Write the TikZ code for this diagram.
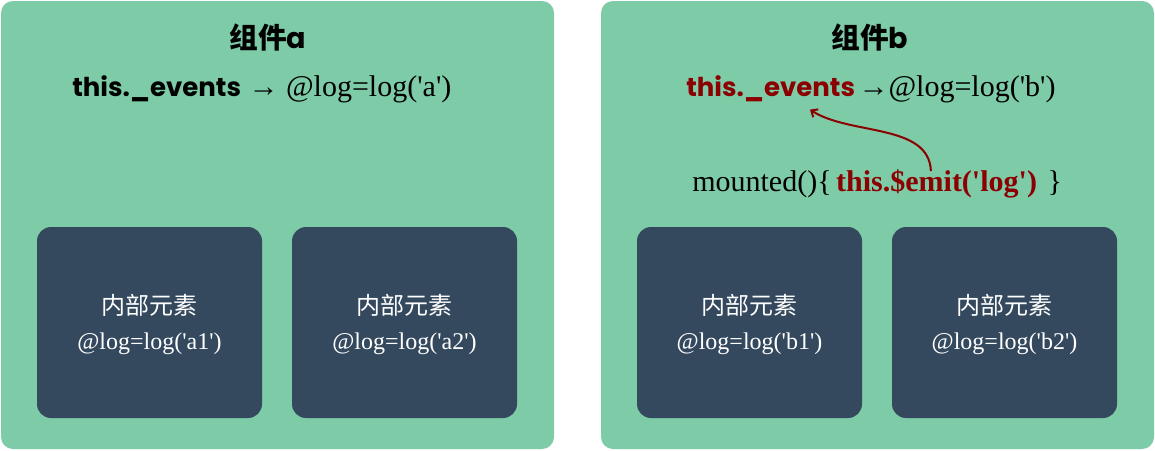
\documentclass[tikz,border=0pt]{standalone}
\usepackage{fontspec}
\usetikzlibrary{arrows.meta,calc}
\setmainfont{Liberation Serif}
\newfontfamily\pop{Poppins}
\newfontfamily\cjk{Noto Sans CJK SC}
\newcommand\sq{\textquotesingle}
\definecolor{boxgreen}{RGB}{126,203,168}
\definecolor{boxdark}{RGB}{52,73,94}
\definecolor{evred}{RGB}{139,0,0}
\tikzset{
  outerbox/.style={fill=boxgreen, rounded corners=9pt, minimum width=414.75pt, minimum height=336pt, inner sep=0},
  innerbox/.style={fill=boxdark, rounded corners=10.5pt, minimum width=168.75pt, minimum height=143.25pt, inner sep=0},
  txt/.style={inner sep=0, anchor=base},
  titletxt/.style={txt, font=\cjk\bfseries\fontsize{21.5}{25}\selectfont},
  evtxt/.style={txt, anchor=base west, font=\pop\bfseries\fontsize{19.5}{23}\selectfont},
  serif/.style={txt, anchor=base west, font=\fontsize{22.5}{27}\selectfont},
  inncjk/.style={txt, text=white, font=\cjk\fontsize{18}{21}\selectfont},
  innlog/.style={txt, text=white, font=\fontsize{18}{22}\selectfont},
  emitarrow/.style={draw=evred, line width=1.5pt, -{Straight Barb[length=4pt,width=7pt]}},
}
\begin{document}
\begin{tikzpicture}[x=0.75pt,y=-0.75pt]
\useasboundingbox (0,0) rectangle (1155,450);
\fill[white] (0,0) rectangle (1155,450);
% outer boxes
\node[outerbox] (A) at (277.5,225) {};
\node[outerbox] (B) at (877.5,225) {};
% titles
\node[titletxt] (tA) at (268,48) {组件{\pop a}};
\node[titletxt] (tB) at (870,48) {组件{\pop b}};
% top line A
\node[evtxt] (evA) at (72,96) {this.\_events};
\node[serif] (logA) at ($(evA.base east)+(7,0)$) {→ @log=log(\sq a\sq)};
% top line B
\node[evtxt, text=evred] (evB) at (686,96) {this.\_events};
\node[serif] (logB) at ($(evB.base east)+(3,0)$) {→@log=log(\sq b\sq)};
% mounted line
\node[serif] (mnt) at (692,191) {mounted()\{~};
\node[serif, font=\bfseries\fontsize{22.5}{27}\selectfont, text=evred] (emit) at ($(mnt.base east)+(4,0)$) {this.\$emit(\sq log\sq)};
\node[serif] (cl) at ($(emit.base east)+(10,0)$) {\}};
% arrow
\draw[emitarrow] ($(emit.north west)+(95,2)$) .. controls +(-2,-48) and +(40,26) .. ($(evB.south west)+(124,8)$);
% inner boxes
\foreach \n/\x/\l in {a1/149.5/a1, a2/404.5/a2, b1/749.5/b1, b2/1004.5/b2}{
  \node[innerbox] (\n) at (\x,322.5) {};
  \node[inncjk] (\n c) at ($(\n.center)+(0,-8.5)$) {内部元素};
  \node[innlog] (\n l) at ($(\n.center)+(0,26.5)$) {@log=log(\sq\l\sq)};
}
\end{tikzpicture}
\end{document}
